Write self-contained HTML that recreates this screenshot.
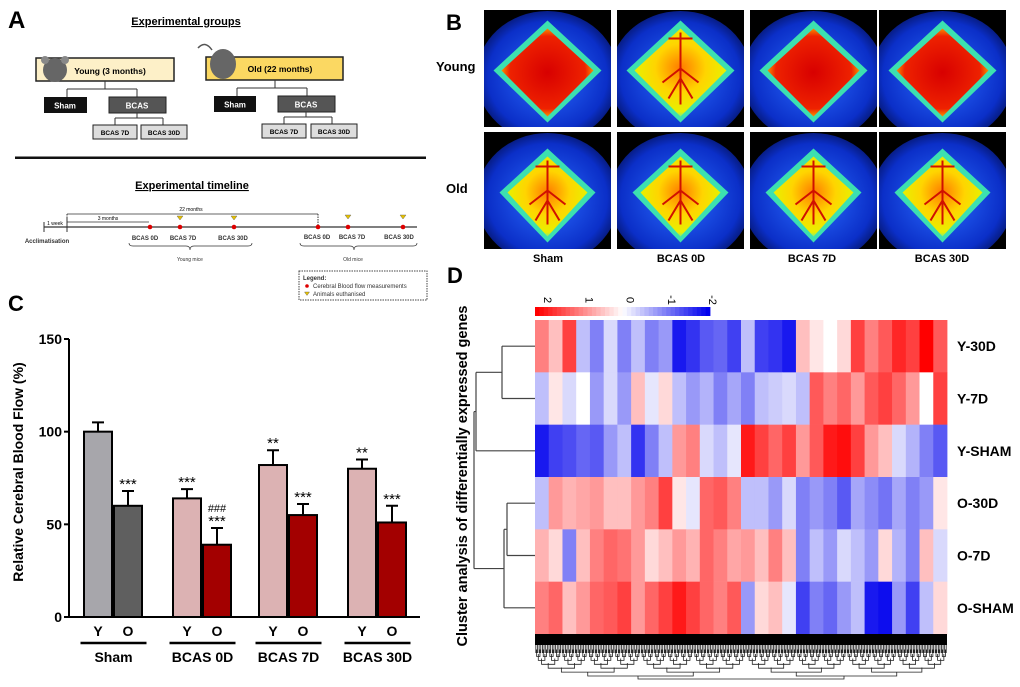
<!DOCTYPE html>
<html><head><meta charset="utf-8">
<style>
body{margin:0;background:#fff;}
svg{display:block;font-family:"Liberation Sans",Arial,sans-serif;}
</style></head>
<body>
<svg id="fig" width="1020" height="687" viewBox="0 0 1020 687" xmlns="http://www.w3.org/2000/svg">
<defs id="defs">
  <radialGradient id="blueField" cx="50%" cy="50%" r="60%">
    <stop offset="0%" stop-color="#2a6cff"/><stop offset="70%" stop-color="#0b2fc8"/><stop offset="100%" stop-color="#020633"/>
  </radialGradient>
  <radialGradient id="hotY" cx="50%" cy="50%" r="55%">
    <stop offset="0%" stop-color="#d80000"/><stop offset="75%" stop-color="#ee2200"/><stop offset="100%" stop-color="#ffcc00"/>
  </radialGradient>
  <radialGradient id="warmO" cx="50%" cy="45%" r="55%">
    <stop offset="0%" stop-color="#ff7a00"/><stop offset="50%" stop-color="#ffd400"/><stop offset="90%" stop-color="#e8f000"/><stop offset="100%" stop-color="#7cf07a"/>
  </radialGradient>
</defs>

<!-- ============ PANEL A ============ -->
<g>
  <text x="8" y="28" font-size="24" font-weight="bold">A</text>
  <text x="186" y="25" font-size="11" font-weight="bold" text-anchor="middle" text-decoration="underline">Experimental groups</text>
  <rect x="36" y="58" width="138" height="23" fill="#fdf0c8" stroke="#222" stroke-width="1.5"/>
  <ellipse cx="55" cy="70" rx="12" ry="12" fill="#666"/>
  <ellipse cx="45" cy="60" rx="4" ry="4" fill="#888"/><ellipse cx="65" cy="60" rx="4" ry="4" fill="#888"/>
  <text x="110" y="74" font-size="8.5" font-weight="bold" text-anchor="middle">Young (3 months)</text>
  <path d="M105 81V89M67 89H137M67 89V97M137 89V97" stroke="#333" fill="none"/>
  <rect x="44" y="97" width="43" height="16" fill="#111"/>
  <text x="65" y="108.5" font-size="8" font-weight="bold" fill="#fff" text-anchor="middle">Sham</text>
  <rect x="109" y="97" width="57" height="16" fill="#555" stroke="#222"/>
  <text x="137" y="108.5" font-size="8" font-weight="bold" fill="#fff" text-anchor="middle">BCAS</text>
  <path d="M137 113V118M115 118H163M115 118V125M163 118V125" stroke="#333" fill="none"/>
  <rect x="93" y="125" width="44" height="14" fill="#ddd" stroke="#222"/>
  <text x="115" y="135" font-size="6.5" font-weight="bold" text-anchor="middle">BCAS 7D</text>
  <rect x="141" y="125" width="46" height="14" fill="#ddd" stroke="#222"/>
  <text x="164" y="135" font-size="6.5" font-weight="bold" text-anchor="middle">BCAS 30D</text>
  <rect x="206" y="57" width="137" height="23" fill="#fbd862" stroke="#222" stroke-width="1.5"/>
  <ellipse cx="223" cy="64" rx="13" ry="15" fill="#666"/>
  <path d="M212 50Q205 40 198 48" stroke="#555" fill="none" stroke-width="1.5"/>
  <text x="280" y="72" font-size="8.5" font-weight="bold" text-anchor="middle">Old (22 months)</text>
  <path d="M275 80V88M237 88H307M237 88V96M307 88V96" stroke="#333" fill="none"/>
  <rect x="214" y="96" width="42" height="16" fill="#111"/>
  <text x="235" y="107.5" font-size="8" font-weight="bold" fill="#fff" text-anchor="middle">Sham</text>
  <rect x="278" y="96" width="57" height="16" fill="#555" stroke="#222"/>
  <text x="306" y="107.5" font-size="8" font-weight="bold" fill="#fff" text-anchor="middle">BCAS</text>
  <path d="M306 112V117M284 117H332M284 117V124M332 117V124" stroke="#333" fill="none"/>
  <rect x="262" y="124" width="44" height="14" fill="#ddd" stroke="#222"/>
  <text x="284" y="134" font-size="6.5" font-weight="bold" text-anchor="middle">BCAS 7D</text>
  <rect x="311" y="124" width="46" height="14" fill="#ddd" stroke="#222"/>
  <text x="334" y="134" font-size="6.5" font-weight="bold" text-anchor="middle">BCAS 30D</text>

  <rect x="15" y="156.5" width="411" height="2.5" fill="#111"/>
  <text x="192" y="189" font-size="11" font-weight="bold" text-anchor="middle" text-decoration="underline">Experimental timeline</text>
  <g stroke="#333" fill="none">
    <path d="M44 227H417" stroke-width="1.2"/>
    <path d="M44 222V232M67 218V232"/>
    <path d="M67 214H318M67 222H149" stroke-width="0.8"/>
    <path d="M318 214V227M67 214V222" stroke-dasharray="1.5,1"/>
  </g>
  <text x="191" y="211" font-size="5" text-anchor="middle">22 months</text>
  <text x="108" y="220" font-size="5" text-anchor="middle">3 months</text>
  <text x="55" y="225" font-size="5" text-anchor="middle">1 week</text>
  <text x="47" y="243" font-size="6" font-weight="bold" text-anchor="middle" fill="#333">Acclimatisation</text>
  <g>
    <circle cx="150" cy="227" r="2.3" fill="#d00"/><circle cx="180" cy="227" r="2.3" fill="#d00"/><circle cx="234" cy="227" r="2.3" fill="#d00"/>
    <circle cx="318" cy="227" r="2.3" fill="#d00"/><circle cx="348" cy="227" r="2.3" fill="#d00"/><circle cx="403" cy="227" r="2.3" fill="#d00"/>
    <path d="M177 216h6l-3 4z M231 216h6l-3 4z M345 215h6l-3 4z M400 215h6l-3 4z" fill="#e8c200" stroke="#555" stroke-width="0.4"/>
  </g>
  <g font-size="6" font-weight="bold" text-anchor="middle" fill="#333">
    <text x="145" y="240">BCAS 0D</text><text x="183" y="240">BCAS 7D</text><text x="233" y="240">BCAS 30D</text>
    <text x="317" y="239">BCAS 0D</text><text x="352" y="239">BCAS 7D</text><text x="399" y="239">BCAS 30D</text>
  </g>
  <path d="M129 243q0 3 4 3H186q4 0 4 4q0-4 4-4H248q4 0 4-3" stroke="#333" fill="none" stroke-width="0.7"/>
  <path d="M300 243q0 3 4 3H350q4 0 4 4q0-4 4-4H413q4 0 4-3" stroke="#333" fill="none" stroke-width="0.7"/>
  <text x="190" y="261" font-size="5" text-anchor="middle" fill="#333">Young mice</text>
  <text x="353" y="261" font-size="5" text-anchor="middle" fill="#333">Old mice</text>
  <rect x="299" y="271" width="128" height="29" fill="none" stroke="#444" stroke-dasharray="1.5,1"/>
  <text x="303" y="280" font-size="6" font-weight="bold" fill="#333">Legend:</text>
  <circle cx="307" cy="286" r="1.8" fill="#d00"/>
  <text x="313" y="288" font-size="6" fill="#333">Cerebral Blood flow measurements</text>
  <path d="M304.5 292h5l-2.5 3.5z" fill="#e8c200" stroke="#555" stroke-width="0.4"/>
  <text x="313" y="296" font-size="6" fill="#333">Animals euthanised</text>
</g>

<!-- ============ PANEL B ============ -->
<g id="panelB">
  <text x="446" y="30" font-size="22" font-weight="bold">B</text>
  <text x="436" y="71" font-size="13" font-weight="bold">Young</text>
  <text x="446" y="193" font-size="13" font-weight="bold">Old</text>
</g>
<g font-size="11" font-weight="bold" text-anchor="middle">
  <text x="548" y="262">Sham</text>
  <text x="681" y="262">BCAS 0D</text>
  <text x="812" y="262">BCAS 7D</text>
  <text x="942" y="262">BCAS 30D</text>
</g>

<!-- ============ PANEL C ============ -->
<g id="panelC">
  <text x="8" y="311" font-size="22" font-weight="bold">C</text>
  <text transform="translate(23,472) rotate(-90)" font-size="14" font-weight="bold" text-anchor="middle">Relative Cerebral Blood Flow (%)</text>
</g>

<!-- ============ PANEL D ============ -->
<g id="panelD">
  <text x="447" y="283" font-size="22" font-weight="bold">D</text>
  <text transform="translate(467,476) rotate(-90)" font-size="14.5" font-weight="bold" text-anchor="middle">Cluster analysis of differentially expressed genes</text>
</g>
</svg>

<script>
const NS = 'http://www.w3.org/2000/svg';
function mk(tag, attrs, parent){const e=document.createElementNS(NS,tag);for(const k in attrs)e.setAttribute(k,attrs[k]);parent.appendChild(e);return e;}

/* ---------- Panel B images (decorative) ---------- */
const bImgX = [484, 617, 750, 879];
const bImgY = [10, 132];
const bImgW = 127, bImgH = 117;
(function(){
  const g = document.getElementById('panelB');
  const defs = document.getElementById('defs');
  bImgY.forEach((y, r) => {
    bImgX.forEach((x, c) => {
      const id = 'clip' + r + c;
      const cp = mk('clipPath', {id:id}, defs);
      mk('rect', {x:x, y:y, width:bImgW, height:bImgH}, cp);
      const cell = mk('g', {'clip-path':`url(#${id})`}, g);
      
      
      mk('rect', {x:x, y:y, width:bImgW, height:bImgH, fill:'#000'}, cell);
      mk('ellipse', {cx:x+bImgW/2, cy:y+bImgH/2+8, rx:bImgW*0.56, ry:bImgH*0.56, fill:'url(#blueField)'}, cell);
      const cx = x+bImgW/2, cy = y+bImgH/2;
      const w = r === 0 ? 46 : 40, top = r === 0 ? 40 : 34, bot = r === 0 ? 48 : 46;
      const pts = `${cx},${cy-top-8} ${cx+w+8},${cy+2} ${cx},${cy+bot+6} ${cx-w-8},${cy+2}`;
      mk('polygon', {points:pts, fill:'#3ce0b0'}, cell);
      const pts2 = `${cx},${cy-top} ${cx+w},${cy+2} ${cx},${cy+bot} ${cx-w},${cy+2}`;
      const hot = (r === 0 && c !== 1);
      mk('polygon', {points:pts2, fill: hot ? 'url(#hotY)' : 'url(#warmO)'}, cell);
      if(!hot){
        mk('path', {d:`M${cx} ${cy-top+4}V${cy+bot-12}M${cx-12} ${cy-top+10}H${cx+12}M${cx} ${cy}l-18 14M${cx} ${cy}l18 14M${cx} ${cy+10}l-12 20M${cx} ${cy+10}l12 20`, stroke:'#d01000', 'stroke-width':2, fill:'none'}, cell);
      }
    });
  });
})();

/* ---------- Panel C bar chart ---------- */
const groups = ['Sham', 'BCAS 0D', 'BCAS 7D', 'BCAS 30D'];
const youngValues = [100, 64, 82, 80];
const youngErrors = [5, 5, 8, 5];
const oldValues = [60, 39, 55, 51];
const oldErrors = [8, 9, 6, 9];
const youngStars = ['', '***', '**', '**'];
const oldStars = ['***', '***', '***', '***'];
const oldHash = ['', '###', '', ''];
const yTicks = [0, 50, 100, 150];
(function(){
  const g = document.getElementById('panelC');
  const x0 = 69, x1 = 420, yBase = 617, yTop = 339, yMax = 150;
  const yS = v => yBase - v*(yBase-yTop)/yMax;
  const groupStart = [83, 172, 258, 347];
  const bw = 29;
  const yFill = ['#a7a6ab', '#dcb2b3', '#dcb2b3', '#dcb2b3'];
  const oFill = ['#5f5f5f', '#a30000', '#a30000', '#a30000'];
  const ax = mk('path', {d:`M${x0} ${yTop}V${yBase}H${x1}`, stroke:'#000', 'stroke-width':2, fill:'none'}, g);
  
  
  yTicks.forEach(t => {
    mk('path', {d:`M${x0-5} ${yS(t)}H${x0}`, stroke:'#000', 'stroke-width':2}, g);
    const tl = mk('text', {x:x0-7, y:yS(t)+5, 'font-size':14, 'font-weight':'bold', 'text-anchor':'end'}, g);
    
    
    tl.textContent = t;
  });
  function bar(x, v, e, fill, name){
    const b = mk('rect', {x:x+1, y:yS(v), width:bw-1, height:yBase-yS(v), fill:fill, stroke:'#000', 'stroke-width':2}, g);
    
    
    const cx = x + bw/2 + 0.5;
    const eb = mk('path', {d:`M${cx} ${yS(v)}V${yS(v+e)}M${cx-6} ${yS(v+e)}H${cx+6}`, stroke:'#000', 'stroke-width':2}, g);
    
    
    return cx;
  }
  groups.forEach((gr, i) => {
    const xs = groupStart[i];
    const cy = bar(xs, youngValues[i], youngErrors[i], yFill[i], 'bar-young-' + i);
    const co = bar(xs+bw+1, oldValues[i], oldErrors[i], oFill[i], 'bar-old-' + i);
    if(youngStars[i]){
      const s = mk('text', {x:cy, y:yS(youngValues[i]+youngErrors[i])-2, 'font-size':15, 'text-anchor':'middle'}, g);
      
      
      s.textContent = youngStars[i];
    }
    let sy = yS(oldValues[i]+oldErrors[i]) - 2;
    const s2 = mk('text', {x:co, y:sy, 'font-size':15, 'text-anchor':'middle'}, g);
    
    
    s2.textContent = oldStars[i];
    if(oldHash[i]){
      const h = mk('text', {x:co, y:sy-14, 'font-size':11, 'text-anchor':'middle'}, g);
      
      
      h.textContent = oldHash[i];
    }
    const ly = mk('text', {x:cy, y:636, 'font-size':14, 'font-weight':'bold', 'text-anchor':'middle'}, g);
    
    
    ly.textContent = 'Y';
    const lo = mk('text', {x:co, y:636, 'font-size':14, 'font-weight':'bold', 'text-anchor':'middle'}, g);
    
    
    lo.textContent = 'O';
    const mid = xs + bw + 0.5;
    const ln = mk('path', {d:`M${mid-32} 643H${mid+34}`, stroke:'#000', 'stroke-width':2.5}, g);
    
    
    const gl = mk('text', {x:mid+1, y:662, 'font-size':14, 'font-weight':'bold', 'text-anchor':'middle'}, g);
    
    
    gl.textContent = gr;
  });
})();

/* ---------- Panel D heatmap ---------- */
const rowLabels = ['Y-30D', 'Y-7D', 'Y-SHAM', 'O-30D', 'O-7D', 'O-SHAM'];
const rowY30D = [1,0.5,1.5,-0.5,-1,-0.3,-1,-0.5,-1,-0.8,-1.8,-1.6,-1.3,-1.2,-1.5,-0.5,-1.5,-1.6,-1.8,0.5,0.2,0,0.3,1.5,1,1.3,1.7,1.5,2,1.3];
const rowY7D = [-0.5,0.2,-0.3,0,-0.8,-0.3,-0.8,0.5,-0.2,0.3,-0.5,-0.8,-0.6,-1,-0.7,-1,-0.5,-0.4,-0.3,-0.5,1.3,1,1.2,0.8,1.3,1.5,1.2,0.8,0,1.5];
const rowYSHAM = [-1.8,-1.5,-1.4,-1.2,-1.3,-0.8,-0.5,-1.6,-1,-0.5,0.8,1,-0.3,-0.5,-0.2,1.8,1.5,1.2,1.5,0.8,1.3,1.8,1.9,1.5,0.8,0.5,-0.3,-0.6,-1,-1.3];
const rowO30D = [-0.5,0.8,0.6,0.7,0.8,0.5,0.5,0.8,1,1.5,0.2,-0.2,1.2,1.3,1,-0.5,-0.5,-0.8,-0.3,-1,-0.8,-1,-1.3,-0.7,-0.9,-1.1,-0.7,-1,-0.8,0.2];
const rowO7D = [0.6,0.3,-1,0.5,1,1.2,1.1,0.8,0.3,0.5,0.8,0.6,1.2,1,0.7,0.8,0.5,1,0.5,-1,-0.5,-0.8,-0.3,-0.5,-0.8,0.3,-0.6,-1,0.5,-0.3];
const rowOSHAM = [1,1.2,0.5,0.8,1.2,1.3,1.5,0.8,1.2,1.5,1.8,1.5,1.2,1,1.3,-0.8,0.3,0.5,-0.2,-1.5,-1,-1.2,-0.8,-0.5,-1.8,-1.9,-0.8,-1.5,-0.5,0.3];
const colorbarTicks = [2, 1, 0, -1, -2];
(function(){
  const g = document.getElementById('panelD');
  const rows = [rowY30D, rowY7D, rowYSHAM, rowO30D, rowO7D, rowOSHAM];
  const hx0 = 535, hx1 = 947, hy0 = 320, hy1 = 634;
  const rh = (hy1-hy0)/rows.length;
  function col(v){
    const t = Math.max(-1, Math.min(1, v/2));
    if(t >= 0){const k = Math.round(255*(1-t)); return `rgb(255,${k},${k})`;}
    const k = Math.round(255*(1+t)); return `rgb(${k},${k},${Math.round(255-18*(-t))})`;
  }
  rows.forEach((r, i) => {
    const cw = (hx1-hx0)/r.length;
    r.forEach((v, j) => {
      const c = mk('rect', {x:hx0+j*cw, y:hy0+i*rh, width:cw+0.4, height:rh+0.3, fill:col(v)}, g);
      
      
    });
    const t = mk('text', {x:957, y:hy0+i*rh+rh/2+5, 'font-size':14, 'font-weight':'bold'}, g);
    
    
    t.textContent = rowLabels[i];
  });
  const cb0 = 535, cb1 = 710, cby = 307, cbh = 9, nSeg = 40;
  for(let k = 0; k < nSeg; k++){
    const v = 2 - 4*k/(nSeg-1);
    const s = mk('rect', {x:cb0+k*(cb1-cb0)/nSeg, y:cby, width:(cb1-cb0)/nSeg+0.4, height:cbh, fill:col(v)}, g);
    
    
  }
  colorbarTicks.forEach((t, k) => {
    const x = cb0 + 5 + k*(cb1-cb0-10)/(colorbarTicks.length-1);
    const tl = mk('text', {transform:`translate(${x+4},${300}) rotate(90)`, 'font-size':11, 'text-anchor':'middle'}, g);
    
    
    tl.textContent = t;
  });
  const rc = i => hy0 + i*rh + rh/2;
  const m01 = (rc(0)+rc(1))/2, m34 = (rc(3)+rc(4))/2, m345 = (m34+rc(5))/2, mTop = (m01+rc(2))/2;
  const d = `M${hx0} ${rc(0)}H502M${hx0} ${rc(1)}H502M502 ${rc(0)}V${rc(1)}` +
            `M502 ${m01}H476M${hx0} ${rc(2)}H476M476 ${m01}V${rc(2)}` +
            `M${hx0} ${rc(3)}H507M${hx0} ${rc(4)}H507M507 ${rc(3)}V${rc(4)}` +
            `M507 ${m34}H504M${hx0} ${rc(5)}H504M504 ${m34}V${rc(5)}` +
            `M504 ${m345}H474M476 ${mTop}H474M474 ${mTop}V${m345}`;
  const dg = mk('path', {d:d, stroke:'#444', 'stroke-width':1.2, fill:'none'}, g);
  
  
  const cg = mk('g', {}, g);
  
  
  mk('rect', {x:hx0, y:hy1, width:hx1-hx0, height:11, fill:'#000'}, cg);
  let p = '';
  function tree(a, b, depth, top){
    if(depth > 6) return;
    const mid = (a+b)/2, bottom = top + 4 + depth*0.6;
    const la = (a+mid)/2, lb = (mid+b)/2;
    p += `M${la} ${top}V${bottom}H${lb}V${top}`;
    tree(a, mid, depth+1, top-4.5);
    tree(mid, b, depth+1, top-4.5);
  }
  tree(hx0, (hx0+hx1)/2+5, 0, 672);
  tree((hx0+hx1)/2+5, hx1, 0, 672);
  p += `M${(hx0*3+hx1)/4} 676V679H${(hx0+hx1*3)/4}V676`;
  mk('path', {d:p, stroke:'#222', 'stroke-width':0.8, fill:'none'}, cg);
})();
</script>
</body></html>
